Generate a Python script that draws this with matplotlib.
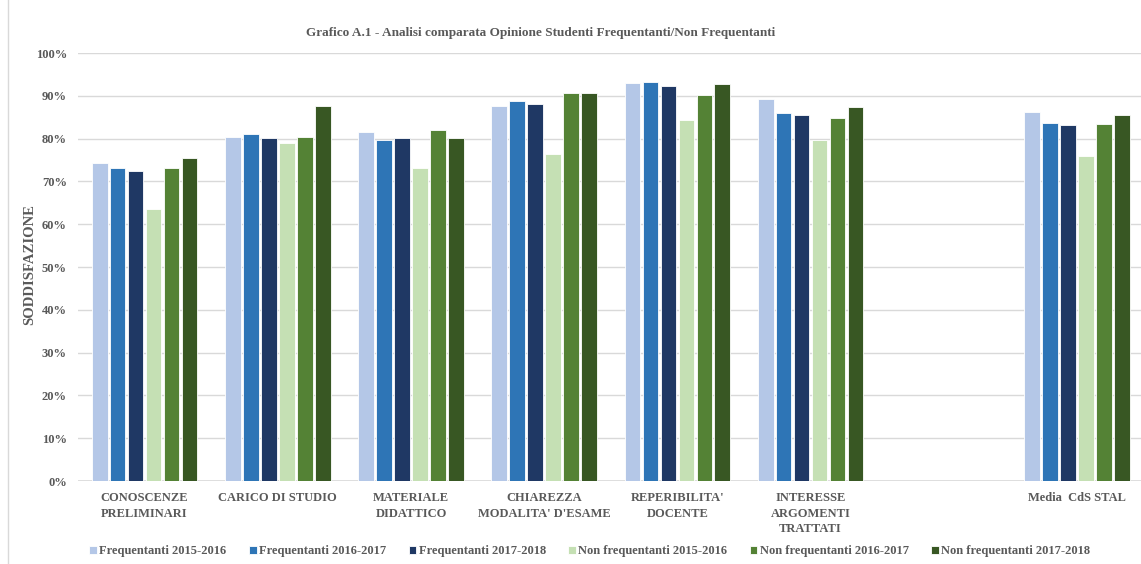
import numpy as np
import matplotlib.pyplot as plt
from matplotlib.lines import Line2D

plt.rcParams['font.family'] = ['Liberation Serif', 'DejaVu Serif']
plt.rcParams['font.weight'] = 'bold'

categories = [
    "CONOSCENZE\nPRELIMINARI",
    "CARICO DI STUDIO",
    "MATERIALE\nDIDATTICO",
    "CHIAREZZA\nMODALITA' D'ESAME",
    "REPERIBILITA'\nDOCENTE",
    "INTERESSE\nARGOMENTI\nTRATTATI",
    "Media  CdS STAL",
]

series_names = [
    "Frequentanti 2015-2016",
    "Frequentanti 2016-2017",
    "Frequentanti 2017-2018",
    "Non frequentanti 2015-2016",
    "Non frequentanti 2016-2017",
    "Non frequentanti 2017-2018",
]

freq_1516 = [74.4, 80.4, 81.5, 87.6, 92.9, 89.3, 86.3]
freq_1617 = [73.1, 81.0, 79.7, 88.9, 93.2, 86.0, 83.6]
freq_1718 = [72.5, 80.2, 80.2, 88.2, 92.2, 85.5, 83.1]
nonfreq_1516 = [63.5, 78.9, 73.1, 76.4, 84.4, 79.7, 75.9]
nonfreq_1617 = [73.1, 80.4, 82.0, 90.6, 90.3, 84.7, 83.4]
nonfreq_1718 = [75.4, 87.6, 80.2, 90.6, 92.7, 87.4, 85.5]

colors = ["#b4c7e7", "#2e75b6", "#1f3864", "#c5e0b4", "#548235", "#385723"]
text_color = "#595959"
grid_color = "#d9d9d9"

series = [freq_1516, freq_1617, freq_1718, nonfreq_1516, nonfreq_1617, nonfreq_1718]

W, H = 1141, 564
fig = plt.figure(figsize=(W / 100, H / 100), dpi=100)
ax = fig.add_axes([78 / W, 1 - 481 / H, (W - 78) / W, 428 / H])

# one empty slot between the single items and the course average
slots = np.arange(len(categories), dtype=float)
slots[-1] += 1

step = 0.135
bar_w = 0.118
for i, (vals, name, c) in enumerate(zip(series, series_names, colors)):
    x = slots + (i - 2.5) * step
    ax.bar(x, np.array(vals) / 100, width=bar_w, color=c, label=name,
           edgecolor="white", linewidth=0.6, zorder=3)

ax.set_ylim(0, 1)
ax.set_xlim(-0.5, -0.5 + (W - 78) / 133.2)
ax.set_yticks(np.arange(0, 1.01, 0.1))
ax.set_yticklabels([f"{int(round(v * 100))}%" for v in np.arange(0, 1.01, 0.1)])
ax.yaxis.grid(True, color=grid_color, linewidth=1, zorder=0)
ax.set_axisbelow(True)
for s in ax.spines.values():
    s.set_visible(False)
ax.axhline(0, color=grid_color, linewidth=1.2, zorder=2)

ax.set_xticks(slots)
ax.set_xticklabels(categories, linespacing=1.4)
ax.tick_params(axis="both", length=0, labelsize=9, labelcolor=text_color)
ax.tick_params(axis="y", pad=8)
ax.tick_params(axis="x", pad=8)

fig.text(30 / W, 1 - 265 / H, "SODDISFAZIONE", rotation=90, ha="center",
         va="center", fontsize=10.5, color=text_color, fontweight="bold")
fig.text(541 / W, 1 - 33 / H,
         "Grafico A.1 - Analisi comparata Opinione Studenti Frequentanti/Non Frequentanti",
         ha="center", va="center", fontsize=9.5, color=text_color, fontweight="bold")

fig.legend(loc="center", bbox_to_anchor=(590 / W, 1 - 551 / H), ncol=6,
           frameon=False, fontsize=9, handlelength=0.6, handleheight=0.6,
           handletextpad=0.2, columnspacing=1.8, labelcolor=text_color)

fig.add_artist(Line2D([8 / W, 8 / W], [0, 1], color=grid_color, linewidth=1))

fig.savefig("out.png", dpi=100)
